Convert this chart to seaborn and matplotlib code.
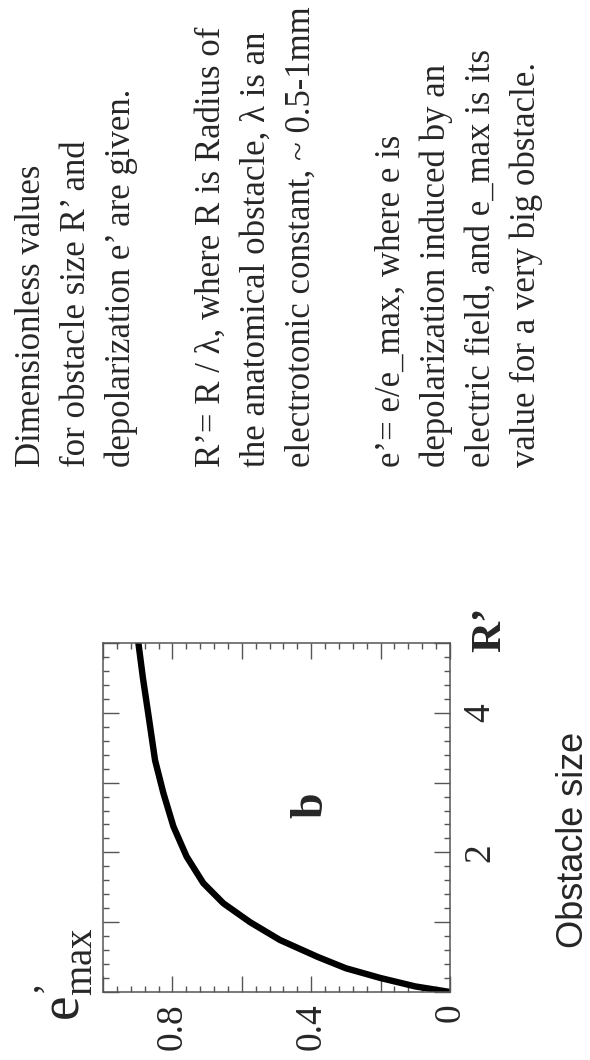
import numpy as np
import pandas as pd
import seaborn as sns
import matplotlib.pyplot as plt
from matplotlib.ticker import MultipleLocator

# curve: obstacle size R' vs depolarization e'
r_size = [0, 0.08, 0.2, 0.34, 0.5, 0.745, 1.0, 1.27, 1.56, 1.94, 2.37, 2.85, 3.32, 4.0, 4.5, 5.0]
e_depol = [0, 0.10, 0.20, 0.30, 0.38, 0.49, 0.576, 0.653, 0.711, 0.759, 0.797, 0.826, 0.850, 0.870, 0.885, 0.898]

e_ticks = [0, 0.2, 0.4, 0.6, 0.8, 1.0]
e_ticklabels = ['0', '', '0.4', '', '0.8', '']
r_ticks = [0, 1, 2, 3, 4, 5]
r_ticklabels = ['', '', '2', '', '4', '']

notes = [
    ['Dimensionless values',
     'for obstacle size R\u2019 and',
     'depolarization e\u2019 are given.'],
    ['R\u2019= R / \u03bb, where R is Radius of',
     'the anatomical obstacle, \u03bb is an',
     'electrotonic constant, ~ 0.5-1mm'],
    ['e\u2019= e/e_max, where e is',
     'depolarization induced by an',
     'electric field, and e_max is its',
     'value for a very big obstacle.'],
]

W, H = 590, 1060


def px(x, y):
    return x / W, 1 - y / H


def vtext(fig, x, y, s, **kw):
    # text turned a quarter left, anchored at its baseline start
    kw.setdefault('ha', 'left')
    kw.setdefault('va', 'baseline')
    return fig.text(*px(x, y), s, rotation=90, rotation_mode='anchor', **kw)


def main():
    sns.set_style('white')
    plt.rcParams['font.family'] = ['Liberation Serif', 'DejaVu Serif']
    plt.rcParams['mathtext.fontset'] = 'custom'
    plt.rcParams['mathtext.rm'] = 'Liberation Serif'
    plt.rcParams['mathtext.it'] = 'Liberation Serif:italic'
    plt.rcParams['mathtext.bf'] = 'Liberation Serif:bold'

    fig = plt.figure(figsize=(W / 100, H / 100), dpi=100)
    ax = fig.add_axes([103 / W, 1 - 992 / H, 347 / W, 349 / H])

    df = pd.DataFrame({'e': e_depol, 'R': r_size})
    sns.lineplot(data=df, x='e', y='R', sort=False, ax=ax, color='black',
                 linewidth=4.6, solid_capstyle='round', solid_joinstyle='round')

    ax.set_xlim(1.0, 0)
    ax.set_ylim(0, 5)
    ax.set_xlabel('')
    ax.set_ylabel('')

    ax.set_xticks(e_ticks)
    ax.set_xticklabels(e_ticklabels, rotation=90, va='top', ha='center', fontsize=27)
    ax.set_yticks(r_ticks)
    ax.set_yticklabels(r_ticklabels, rotation=90, va='center', ha='left', fontsize=27)
    ax.xaxis.set_minor_locator(MultipleLocator(0.04))
    ax.yaxis.set_minor_locator(MultipleLocator(0.2))

    ax.tick_params(which='both', direction='in', top=True, bottom=True, left=True, right=True,
                   labelleft=False, labelright=True, labelbottom=True, color='#555555', width=1)
    ax.tick_params(which='major', length=11.5)
    ax.tick_params(which='minor', length=4.3)
    ax.tick_params(axis='x', which='major', pad=8)
    ax.tick_params(axis='y', which='major', pad=9)
    for s in ax.spines.values():
        s.set_color('#555555')
        s.set_linewidth(1.1)

    # axis names
    vtext(fig, 80, 1021, '$\\mathrm{e}^{\\mathrm{\u2019}}_{\\mathrm{max}}$', fontsize=40)
    vtext(fig, 500, 652, 'R\u2019', fontsize=31, fontweight='bold')
    vtext(fig, 322, 818, 'b', fontsize=33, fontweight='bold')
    vtext(fig, 583, 840, 'Obstacle size', ha='center', fontsize=26,
          family=['Liberation Sans', 'DejaVu Sans'])

    # explanatory text block
    x = 40
    for block in notes:
        for line in block:
            vtext(fig, x, 467, line, fontsize=25)
            x += 45
        x += 45

    fig.savefig('out.png', dpi=100)


if __name__ == '__main__':
    main()
